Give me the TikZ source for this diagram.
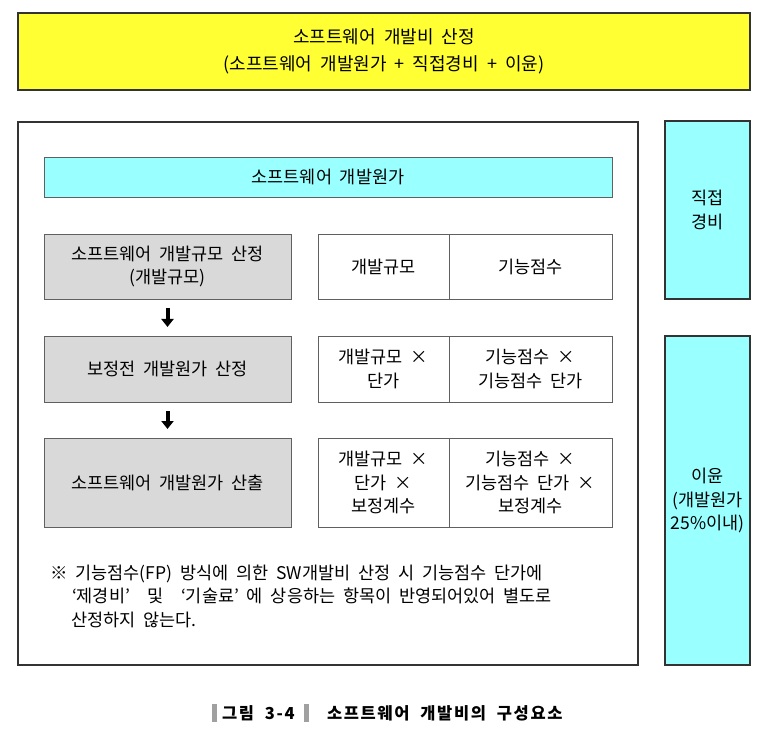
\documentclass[tikz,border=0pt]{standalone}
\usepackage{fontspec}
\setmainfont[WordSpace=2.0]{Noto Sans CJK KR}
\usetikzlibrary{arrows.meta}
\definecolor{ylw}{HTML}{FFFF33}
\definecolor{cyn}{HTML}{99FFFF}
\definecolor{gry}{HTML}{D9D9D9}
\definecolor{edge}{HTML}{333333}
\definecolor{thin}{HTML}{606060}
\definecolor{barc}{HTML}{A0A0A0}
\begin{document}
\begin{tikzpicture}[x=1pt,y=-1pt,
  every node/.style={inner sep=0pt,outer sep=0pt,font=\fontsize{17.5}{23.5}\selectfont},
  heavy/.style={draw=edge,line width=1.6pt,anchor=north west,align=center},
  cell/.style={draw=thin,line width=0.8pt,anchor=north west,align=center},
  arr/.style={line width=4pt,-{Triangle[width=12pt,length=8pt]}}]
\useasboundingbox (0,0) rectangle (769,730);
% top yellow box
\node[heavy,fill=ylw,minimum width=732pt,minimum height=77pt,font=\fontsize{18}{27}\selectfont] (top) at (18,13)
  {소프트웨어 개발비 산정\\(소프트웨어 개발원가 + 직접경비 + 이윤)};
% outer white box
\node[heavy,fill=white,minimum width=620pt,minimum height=543pt] (outer) at (18,122) {};
% right cyan boxes
\node[heavy,fill=cyn,minimum width=85pt,minimum height=178pt] (direct) at (665,121) {직접\\경비};
\node[heavy,fill=cyn,minimum width=85pt,minimum height=329pt] (profit) at (665,336) {이윤\\(개발원가\\25\%이내)};
% header
\node[cell,fill=cyn,minimum width=568pt,minimum height=40pt] (hdr) at (44,157) {소프트웨어 개발원가};
% gray steps
\node[cell,fill=gry,minimum width=247pt,minimum height=65pt] (g1) at (44,234) {소프트웨어 개발규모 산정\\(개발규모)};
\node[cell,fill=gry,minimum width=247pt,minimum height=66pt] (g2) at (44,336) {보정전 개발원가 산정};
\node[cell,fill=gry,minimum width=247pt,minimum height=89pt] (g3) at (44,438) {소프트웨어 개발원가 산출};
% table cells
\node[cell,minimum width=131pt,minimum height=65pt] (a1) at (318,234) {개발규모};
\node[cell,minimum width=163pt,minimum height=65pt] (b1) at (449,234) {기능점수};
\node[cell,minimum width=131pt,minimum height=66pt] (a2) at (318,336) {개발규모 ×\\단가};
\node[cell,minimum width=163pt,minimum height=66pt] (b2) at (449,336) {기능점수 ×\\기능점수 단가};
\node[cell,minimum width=131pt,minimum height=89pt] (a3) at (318,438) {개발규모 ×\\단가 ×\\보정계수};
\node[cell,minimum width=163pt,minimum height=89pt] (b3) at (449,438) {기능점수 ×\\기능점수 단가 ×\\보정계수};
% arrows
\draw[arr,shorten <=9pt,shorten >=9pt] (g1.south) -- (g2.north);
\draw[arr,shorten <=9pt,shorten >=9pt] (g2.south) -- (g3.north);
% note
\node[anchor=north west,align=left] (note) at (50,565)
  {※ 기능점수(FP) 방식에 의한 SW개발비 산정 시 기능점수 단가에\\
   \hspace*{22pt}‘제경비’\quad 및\quad ‘기술료’ 에 상응하는 항목이 반영되어있어 별도로\\
   \hspace*{21pt}산정하지 않는다.};
% caption
\node[anchor=west,font=\fontsize{16.5}{18}\bfseries\addfontfeature{LetterSpace=10}] (cap1) at (222,713) {그림 3-4};
\node[anchor=west,font=\fontsize{16.5}{18}\bfseries\addfontfeature{LetterSpace=10}] (cap2) at (327,713) {소프트웨어 개발비의 구성요소};
\fill[barc] (212,704) rectangle (217,722);
\fill[barc] (304,704) rectangle (309,722);
\end{tikzpicture}
\end{document}
